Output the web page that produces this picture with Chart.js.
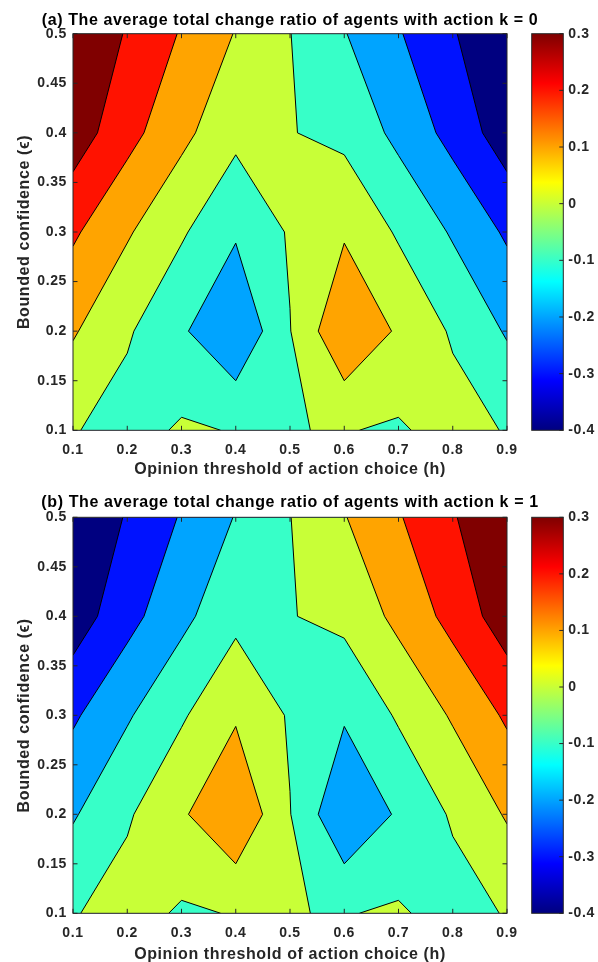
<!DOCTYPE html>
<html>
<head>
<meta charset="utf-8">
<script src="https://cdn.jsdelivr.net/npm/chart.js@4.4.1/dist/chart.umd.min.js"></script>
<style>
html,body{margin:0;padding:0;background:#fff;}
#wrap{position:relative;width:598px;height:962px;overflow:hidden;}
#wrap canvas{position:absolute;left:0;}
</style>
</head>
<body>
<div id="wrap">
  <canvas id="mainA" width="598" height="481" style="top:0px"></canvas>
  <canvas id="cbarA" width="598" height="481" style="top:0px"></canvas>
  <canvas id="mainB" width="598" height="481" style="top:481px"></canvas>
  <canvas id="cbarB" width="598" height="481" style="top:481px"></canvas>
</div>
<script>
// ---------------- data ----------------
const hValues   = [0.1, 0.2, 0.3, 0.4, 0.5, 0.6, 0.7, 0.8, 0.9];   // opinion threshold h (columns)
const epsValues = [0.1, 0.2, 0.3, 0.4, 0.5];                       // bounded confidence eps (rows)
const levels    = [-0.4, -0.3, -0.2, -0.1, 0, 0.1, 0.2, 0.3];      // contour levels
const xTicks    = [0.1, 0.2, 0.3, 0.4, 0.5, 0.6, 0.7, 0.8, 0.9];
const yTicks    = [0.1, 0.15, 0.2, 0.25, 0.3, 0.35, 0.4, 0.45, 0.5];
const cbarTicks = [-0.4, -0.3, -0.2, -0.1, 0, 0.1, 0.2, 0.3];

// (a) action k = 0 : one array per eps row, values along h
const a_eps010 = [ 0.007, -0.042,  0.013, -0.005, -0.003,  0.005, -0.013,  0.042, -0.007];
const a_eps020 = [ 0.110,  0.012, -0.086, -0.195, -0.003,  0.195,  0.086, -0.012, -0.110];
const a_eps030 = [ 0.215,  0.111,  0.012, -0.088,  0.010,  0.088, -0.012, -0.111, -0.215];
const a_eps040 = [ 0.355,  0.233,  0.126,  0.025,  0.004, -0.025, -0.126, -0.233, -0.355];
const a_eps050 = [ 0.390,  0.292,  0.192,  0.095,  0.002, -0.095, -0.192, -0.292, -0.390];

// (b) action k = 1
const b_eps010 = [-0.007,  0.042, -0.013,  0.005,  0.003, -0.005,  0.013, -0.042,  0.007];
const b_eps020 = [-0.110, -0.012,  0.086,  0.195,  0.003, -0.195, -0.086,  0.012,  0.110];
const b_eps030 = [-0.215, -0.111, -0.012,  0.088, -0.010, -0.088,  0.012,  0.111,  0.215];
const b_eps040 = [-0.355, -0.233, -0.126, -0.025, -0.004,  0.025,  0.126,  0.233,  0.355];
const b_eps050 = [-0.390, -0.292, -0.192, -0.095, -0.002,  0.095,  0.192,  0.292,  0.390];

const titleA = '(a) The average total change ratio of agents with action k = 0';
const titleB = '(b) The average total change ratio of agents with action k = 1';
const xTitle = 'Opinion threshold of action choice (h)';
const yTitle = 'Bounded confidence (\u03F5)';

// ---------------- helpers ----------------
const FONT = "'Liberation Sans', Arial, Helvetica, sans-serif";
const AXC = '#262626';
const fmt = v => String(Number(Number(v).toFixed(2)));
const clamp = v => Math.max(0, Math.min(1, v));
function jet(t) {
  const r = clamp(Math.min(4*t - 1.5, -4*t + 4.5));
  const g = clamp(Math.min(4*t - 0.5, -4*t + 3.5));
  const b = clamp(Math.min(4*t + 0.5, -4*t + 2.5));
  return 'rgb(' + Math.round(r*255) + ',' + Math.round(g*255) + ',' + Math.round(b*255) + ')';
}
const cMin = cbarTicks[0], cMax = cbarTicks[cbarTicks.length - 1];
const levelColor = L => jet((L - cMin) / (cMax - cMin));

// marching squares for one cell and one level
function cellGeom(grid, i, j, L) {
  const cs = [[i, j], [i+1, j], [i+1, j+1], [i, j+1]];
  const v = cs.map(([ci, cj]) => grid[cj][ci]);
  const p = cs.map(([ci, cj]) => [hValues[ci], epsValues[cj]]);
  const up = v.map(val => val >= L);
  const cross = k => {
    const k2 = (k + 1) % 4;
    const t = (L - v[k]) / (v[k2] - v[k]);
    return [p[k][0] + t*(p[k2][0]-p[k][0]), p[k][1] + t*(p[k2][1]-p[k][1])];
  };
  const n = up.filter(Boolean).length;
  const saddle = n === 2 && up[0] === up[2];
  const centerUp = (v[0]+v[1]+v[2]+v[3]) / 4 >= L;
  const polys = [], segs = [];
  if (n > 0) {
    if (saddle && !centerUp) {
      for (let k = 0; k < 4; k++) if (up[k]) polys.push([cross((k+3)%4), p[k], cross(k)]);
    } else {
      const poly = [];
      for (let k = 0; k < 4; k++) {
        if (up[k]) poly.push(p[k]);
        if (up[k] !== up[(k+1)%4]) poly.push(cross(k));
      }
      polys.push(poly);
    }
  }
  const xs = [];
  for (let k = 0; k < 4; k++) if (up[k] !== up[(k+1)%4]) xs.push(k);
  if (xs.length === 2) segs.push([cross(xs[0]), cross(xs[1])]);
  else if (xs.length === 4) {
    for (let k = 0; k < 4; k++) {
      if ((centerUp && !up[k]) || (!centerUp && up[k])) segs.push([cross((k+3)%4), cross(k)]);
    }
  }
  return {polys, segs};
}

const contourPlugin = {
  id: 'contour',
  beforeDatasetsDraw(chart, args, opts) {
    const grid = opts.grid;
    const {ctx, chartArea: ca, scales: {x, y}} = chart;
    const P = q => [x.getPixelForValue(q[0]), y.getPixelForValue(q[1])];
    ctx.save();
    ctx.beginPath();
    ctx.rect(ca.left, ca.top, ca.right - ca.left, ca.bottom - ca.top);
    ctx.clip();
    const allSegs = [];
    levels.forEach(L => {
      ctx.beginPath();
      for (let j = 0; j < epsValues.length - 1; j++) {
        for (let i = 0; i < hValues.length - 1; i++) {
          const g = cellGeom(grid, i, j, L);
          g.polys.forEach(poly => {
            poly.forEach((q, k) => { const pp = P(q); if (k === 0) ctx.moveTo(pp[0], pp[1]); else ctx.lineTo(pp[0], pp[1]); });
            ctx.closePath();
          });
          g.segs.forEach(s => allSegs.push(s));
        }
      }
      ctx.fillStyle = levelColor(L);
      ctx.fill();
    });
    ctx.beginPath();
    allSegs.forEach(s => { const a = P(s[0]), b = P(s[1]); ctx.moveTo(a[0], a[1]); ctx.lineTo(b[0], b[1]); });
    ctx.strokeStyle = '#000';
    ctx.lineWidth = 1;
    ctx.lineJoin = 'round';
    ctx.stroke();
    ctx.restore();
  }
};

// axes box, inward ticks and the panel title centred over the plot area
const boxPlugin = {
  id: 'axbox',
  afterDraw(chart, args, opts) {
    const {ctx, chartArea: ca, scales: {x, y}} = chart;
    const tl = 4.5;
    ctx.save();
    ctx.strokeStyle = AXC;
    ctx.lineWidth = 1;
    ctx.beginPath();
    xTicks.forEach(v => {
      const px = x.getPixelForValue(v);
      ctx.moveTo(px, ca.bottom); ctx.lineTo(px, ca.bottom - tl);
      ctx.moveTo(px, ca.top); ctx.lineTo(px, ca.top + tl);
    });
    yTicks.forEach(v => {
      const py = y.getPixelForValue(v);
      ctx.moveTo(ca.left, py); ctx.lineTo(ca.left + tl, py);
      ctx.moveTo(ca.right, py); ctx.lineTo(ca.right - tl, py);
    });
    ctx.stroke();
    ctx.strokeRect(ca.left, ca.top, ca.right - ca.left, ca.bottom - ca.top);
    ctx.fillStyle = '#000';
    ctx.font = 'bold 16px ' + FONT;
    ctx.textAlign = 'center';
    ctx.textBaseline = 'middle';
    ctx.fillText(opts.text, (ca.left + ca.right) / 2, opts.y);
    ctx.restore();
  }
};

const spacingPlugin = {
  id: 'spacing',
  beforeDraw(chart) { try { chart.ctx.letterSpacing = '0.6px'; } catch (e) {} }
};

const cbarBoxPlugin = {
  id: 'cbox',
  afterDraw(chart) {
    const {ctx, chartArea: ca, scales: {y}} = chart;
    ctx.save();
    ctx.strokeStyle = AXC;
    ctx.lineWidth = 1;
    ctx.beginPath();
    cbarTicks.forEach(v => {
      const py = y.getPixelForValue(v);
      ctx.moveTo(ca.right, py); ctx.lineTo(ca.right - 4, py);
    });
    ctx.stroke();
    ctx.strokeRect(ca.left, ca.top, ca.right - ca.left, ca.bottom - ca.top);
    ctx.restore();
  }
};

function makeMain(id, grid, titleText, geo) {
  const pts = [];
  epsValues.forEach(e => hValues.forEach(h => pts.push({x: h, y: e})));
  return new Chart(document.getElementById(id), {
    type: 'scatter',
    data: {datasets: [{data: pts, pointRadius: 0, showLine: false}]},
    options: {
      responsive: false, animation: false, events: [],
      layout: {padding: {left: 0, right: 598 - geo.right, top: geo.top, bottom: 0}},
      plugins: {
        legend: {display: false},
        tooltip: {enabled: false},
        title: {display: false},
        contour: {grid: grid},
        axbox: {text: titleText, y: geo.titleY}
      },
      scales: {
        x: {
          type: 'linear', min: xTicks[0], max: xTicks[xTicks.length - 1],
          afterBuildTicks: s => { s.ticks = xTicks.map(v => ({value: v})); },
          afterFit: s => { s.height = geo.xh; },
          grid: {display: false, drawTicks: false}, border: {display: false},
          ticks: {color: AXC, font: {family: FONT, size: 14, weight: 'bold'}, padding: geo.xPad,
                  maxRotation: 0, autoSkip: false, callback: v => fmt(v)},
          title: {display: true, text: xTitle, color: AXC,
                  font: {family: FONT, size: 16, weight: 'bold'}, padding: {top: 0, bottom: geo.xtPad}}
        },
        y: {
          type: 'linear', min: yTicks[0], max: yTicks[yTicks.length - 1],
          afterBuildTicks: s => { s.ticks = yTicks.map(v => ({value: v})); },
          afterFit: s => { s.width = geo.left; },
          grid: {display: false, drawTicks: false}, border: {display: false},
          ticks: {color: AXC, font: {family: FONT, size: 14, weight: 'bold'}, padding: 6,
                  autoSkip: false, callback: v => fmt(v)},
          title: {display: true, text: yTitle, color: AXC,
                  font: {family: FONT, size: 16, weight: 'bold'}, padding: {top: geo.ytPad, bottom: 0}}
        }
      }
    },
    plugins: [spacingPlugin, contourPlugin, boxPlugin]
  });
}

function makeCbar(id, geo) {
  return new Chart(document.getElementById(id), {
    type: 'bar',
    data: {
      labels: ['c'],
      datasets: [{
        data: [[cMin, cMax]],
        backgroundColor: c => {
          const ca = c.chart.chartArea;
          if (!ca) return 'rgba(0,0,0,0)';
          const g = c.chart.ctx.createLinearGradient(0, ca.bottom, 0, ca.top);
          for (let k = 0; k <= 64; k++) g.addColorStop(k / 64, jet(k / 64));
          return g;
        },
        borderWidth: 0, barPercentage: 1, categoryPercentage: 1
      }]
    },
    options: {
      responsive: false, animation: false, events: [],
      layout: {padding: {left: geo.cbLeft, right: 0, top: geo.top, bottom: 481 - geo.bottom}},
      plugins: {legend: {display: false}, tooltip: {enabled: false}, title: {display: false}},
      scales: {
        x: {display: false},
        y: {
          position: 'right', min: cMin, max: cMax,
          afterBuildTicks: s => { s.ticks = cbarTicks.map(v => ({value: v})); },
          afterFit: s => { s.width = 598 - geo.cbRight; },
          grid: {display: false, drawTicks: false}, border: {display: false},
          ticks: {color: AXC, font: {family: FONT, size: 14, weight: 'bold'}, padding: 5,
                  autoSkip: false, callback: v => fmt(v)}
        }
      }
    },
    plugins: [spacingPlugin, cbarBoxPlugin]
  });
}

const geoA = {left: 73, right: 507, top: 33.7, bottom: 430.3, titleY: 20.5,
              xh: 481 - 430.3, xPad: 11, xtPad: 1.5, ytPad: 14.5, cbLeft: 531.7, cbRight: 563.3};
const geoB = {left: 73, right: 507, top: 36.3, bottom: 432.3, titleY: 21.5,
              xh: 481 - 432.3, xPad: 11, xtPad: -2.5, ytPad: 14.5, cbLeft: 531.7, cbRight: 563.3};

makeMain('mainA', [a_eps010, a_eps020, a_eps030, a_eps040, a_eps050], titleA, geoA);
makeCbar('cbarA', geoA);
makeMain('mainB', [b_eps010, b_eps020, b_eps030, b_eps040, b_eps050], titleB, geoB);
makeCbar('cbarB', geoB);
</script>
</body>
</html>
